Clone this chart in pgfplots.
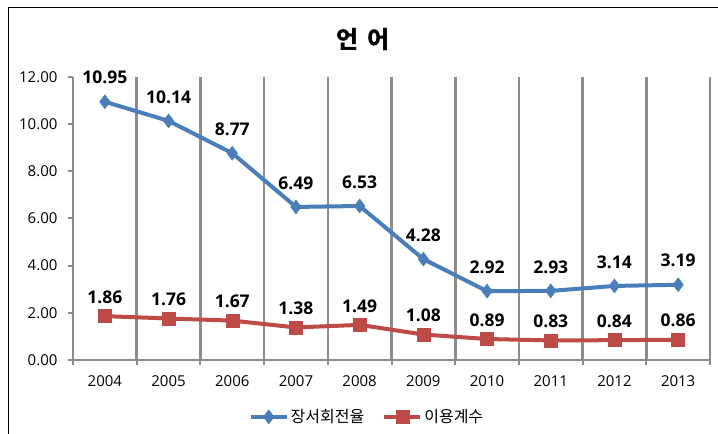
\documentclass[border=0pt]{standalone}
\usepackage{pgfplots}
\pgfplotsset{compat=1.18}
\usepackage{fontspec}
\setmainfont{Open Sans}
\newfontfamily\kr{Noto Sans CJK KR}
\definecolor{cblue}{RGB}{74,126,187}
\definecolor{cred}{RGB}{190,75,72}
\definecolor{cgrid}{RGB}{140,140,140}
\begin{document}
\begin{tikzpicture}
\useasboundingbox (0pt,0pt) rectangle (718pt,434pt);
\draw[black, line width=1pt] (8pt,0pt) -- (8pt,426pt) -- (718pt,426pt);
\node[font=\kr\bfseries\fontsize{24}{26}\selectfont] at (363pt,394pt) {언\hspace{4pt} 어};
\begin{axis}[at={(73pt,74pt)}, anchor=south west, scale only axis,
  width=637pt, height=283pt,
  xmin=0.5, xmax=10.5, ymin=0, ymax=12,
  axis x line=bottom, axis y line=left,
  axis line style={-, cgrid, line width=2pt},
  xtick={1,...,10}, xticklabels={2004,2005,2006,2007,2008,2009,2010,2011,2012,2013},
  major x tick style={draw=none},
  minor xtick={0.5,1.5,...,10.5},
  xminorgrids=true, minor grid style={cgrid, line width=2.6pt},
  minor x tick style={cgrid, line width=2pt},
  minor tick length=5pt, major tick length=5pt, tick align=outside,
  ytick={0,2,...,12},
  y tick style={cgrid, line width=2pt},
  yticklabel style={/pgf/number format/.cd, fixed, fixed zerofill, precision=2, /tikz/.cd, xshift=-7pt},
  xticklabel style={yshift=-7pt},
  ticklabel style={font=\fontsize{15}{17}\selectfont},
  /pgf/number format/assume math mode=true,
  nodes near coords={\pgfmathprintnumber[fixed,fixed zerofill,precision=2]{\pgfplotspointmeta}},
  nodes near coords style={font=\bfseries\fontsize{17.5}{19}\selectfont, anchor=center, black},
  legend style={at={(0.4615,-0.201)}, anchor=center, draw=none, legend columns=2,
    font=\kr\fontsize{16}{18}\selectfont, /tikz/every even column/.append style={column sep=16pt}},
  legend image code/.code={\draw[mark repeat=2,mark phase=2] plot coordinates {(0pt,0pt) (18pt,0pt) (36pt,0pt)};},
  clip=false,
]
\addplot[cblue, line width=4pt, mark=diamond*, mark size=7pt, mark options={solid, line width=0.5pt, fill=cblue},
  nodes near coords style={yshift=24pt}]
  coordinates {(1,10.95) (2,10.14) (3,8.77) (4,6.49) (5,6.53) (6,4.28) (7,2.92) (8,2.93) (9,3.14) (10,3.19)};
\addlegendentry{장서회전율}
\addplot[cred, line width=4pt, mark=square*, mark size=6.5pt, mark options={solid, line width=0.5pt, fill=cred},
  nodes near coords style={yshift=19pt}]
  coordinates {(1,1.86) (2,1.76) (3,1.67) (4,1.38) (5,1.49) (6,1.08) (7,0.89) (8,0.83) (9,0.84) (10,0.86)};
\addlegendentry{이용계수}
\end{axis}
\end{tikzpicture}
\end{document}
